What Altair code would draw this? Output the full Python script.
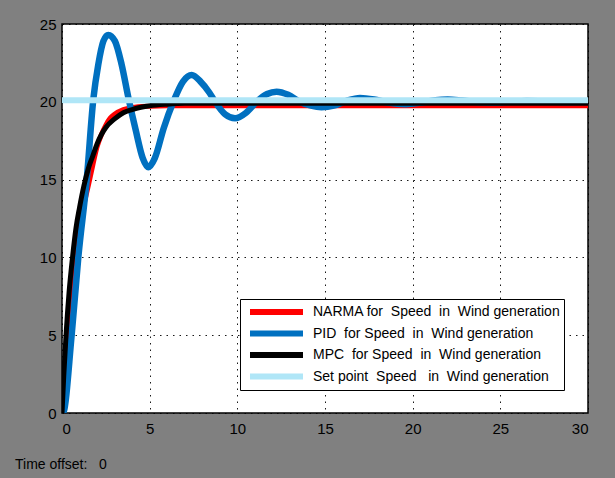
import altair as alt
import pandas as pd

# Step responses of the wind-generation speed loop (time in s, speed)
narma_t = [0, 0.25, 0.5, 0.75, 1.0, 1.25, 1.5, 1.75, 2.0, 2.25, 2.5, 2.75, 3.0, 3.5, 4.0, 5.0, 6.0, 30]
narma_v = [0, 3.2, 7.5, 10.3, 12.1, 13.4, 14.6, 15.9, 17.1, 17.9, 18.5, 18.95, 19.2, 19.5, 19.63, 19.72, 19.75, 19.75]

pid_t = [0, 0.05, 0.55, 0.93, 1.41, 1.79, 2.07, 2.36, 2.64, 3.02, 3.4, 3.78, 4.2, 4.6, 4.92, 5.3, 5.8,
         6.35, 6.9, 7.4, 7.9, 8.4, 8.73, 9.3, 9.87, 10.5, 11.1, 11.7, 12.24, 12.9, 13.57, 14.2, 14.8,
         15.5, 16.2, 17.0, 17.8, 18.6, 19.6, 20.5, 21.3, 22.0, 22.8, 23.7, 24.5, 25.3, 26.5, 27.5, 28.5, 30]
pid_v = [0, 0, 5.0, 10.0, 15.0, 20.2, 22.4, 23.9, 24.3, 23.9, 22.4, 20.3, 18.2, 16.4, 15.8, 16.4, 18.3,
         20.0, 21.3, 21.72, 21.3, 20.6, 20.0, 19.2, 18.94, 19.3, 20.0, 20.5, 20.65, 20.45, 20.0, 19.75, 19.65,
         19.75, 20.05, 20.25, 20.15, 19.95, 19.85, 19.95, 20.1, 20.14, 20.08, 19.98, 19.95, 19.98, 20.05, 20.03, 19.99, 20.0]

mpc_t = [0, 0.1, 0.23, 0.4, 0.6, 0.8, 1.0, 1.25, 1.5, 1.75, 2.0, 2.25, 2.5, 3.0, 3.5, 4.0, 4.5, 5.0, 6.0, 7.0, 30]
mpc_v = [0, 2.4, 5.0, 7.7, 10.0, 11.9, 13.2, 14.6, 15.7, 16.5, 17.3, 17.9, 18.35, 18.9, 19.3, 19.5, 19.65, 19.75, 19.85, 19.9, 19.9]

setpoint_t = [0, 30]
setpoint_v = [20.1, 20.1]

NB = "\u00a0"
names = [
    f"NARMA for {NB}Speed {NB}in {NB}Wind generation",
    f"PID {NB}for Speed {NB}in {NB}Wind generation",
    f"MPC {NB}for Speed {NB}in {NB}Wind generation",
    f"Set point {NB}Speed {NB}{NB}in {NB}Wind generation",
]
colors = ["#ff0000", "#0070c0", "#000000", "#b0e6f7"]
widths = [5, 6.5, 5, 6]

frames = []
for name, ts, vs in zip(names, [narma_t, pid_t, mpc_t, setpoint_t], [narma_v, pid_v, mpc_v, setpoint_v]):
    frames.append(pd.DataFrame({"t": ts, "v": vs, "series": name, "order": range(len(ts))}))
data = pd.concat(frames, ignore_index=True)

FONT = "Liberation Sans, Arial, sans-serif"

x_enc = alt.X("t:Q", scale=alt.Scale(domain=[0, 30], nice=False),
              axis=alt.Axis(values=[0, 5, 10, 15, 20, 25, 30], title=None, labelPadding=8))
y_enc = alt.Y("v:Q", scale=alt.Scale(domain=[0, 25], nice=False),
              axis=alt.Axis(values=[0, 5, 10, 15, 20, 25], title=None, labelPadding=6))

color_enc = alt.Color(
    "series:N",
    scale=alt.Scale(domain=names, range=colors),
    legend=alt.Legend(
        orient="none", legendX=178, legendY=275, title=None,
        symbolType="stroke", symbolSize=2809, symbolStrokeWidth=6, symbolOffset=4,
        clipHeight=20, rowPadding=1.5,
        labelFont=FONT, labelFontSize=14, labelColor="black", labelLimit=0, labelOffset=7,
        fillColor="white", strokeColor="black", padding=3,
    ),
)

layers = []
for name, w in zip(names, widths):
    layers.append(
        alt.Chart(data)
        .transform_filter(alt.datum.series == name)
        .mark_line(strokeWidth=w, interpolate="monotone", clip=True)
        .encode(x=x_enc, y=y_enc, color=color_enc, order="order:Q")
    )

chart = (
    alt.layer(*layers)
    .properties(
        width=526, height=389,
        autosize=alt.AutoSizeParams(type="none"),
        padding={"left": 62, "top": 24, "right": 27, "bottom": 65},
        background="#808080",
        title=alt.TitleParams(
            f"Time offset: {NB} 0", orient="bottom", anchor="start", frame="group",
            dx=-47, offset=22, font=FONT, fontSize=14, fontWeight="normal", color="black",
        ),
    )
    .configure_view(stroke="black", strokeWidth=1.5, fill="white")
    .configure_axis(
        grid=True, gridColor="black", gridDash=[1.5, 5], gridWidth=1, gridOpacity=0.9,
        ticks=False, domain=False, labelFont=FONT, labelFontSize=15, labelColor="black",
    )
)

chart.save("out.html", embed_options={"renderer": "svg", "actions": False})
